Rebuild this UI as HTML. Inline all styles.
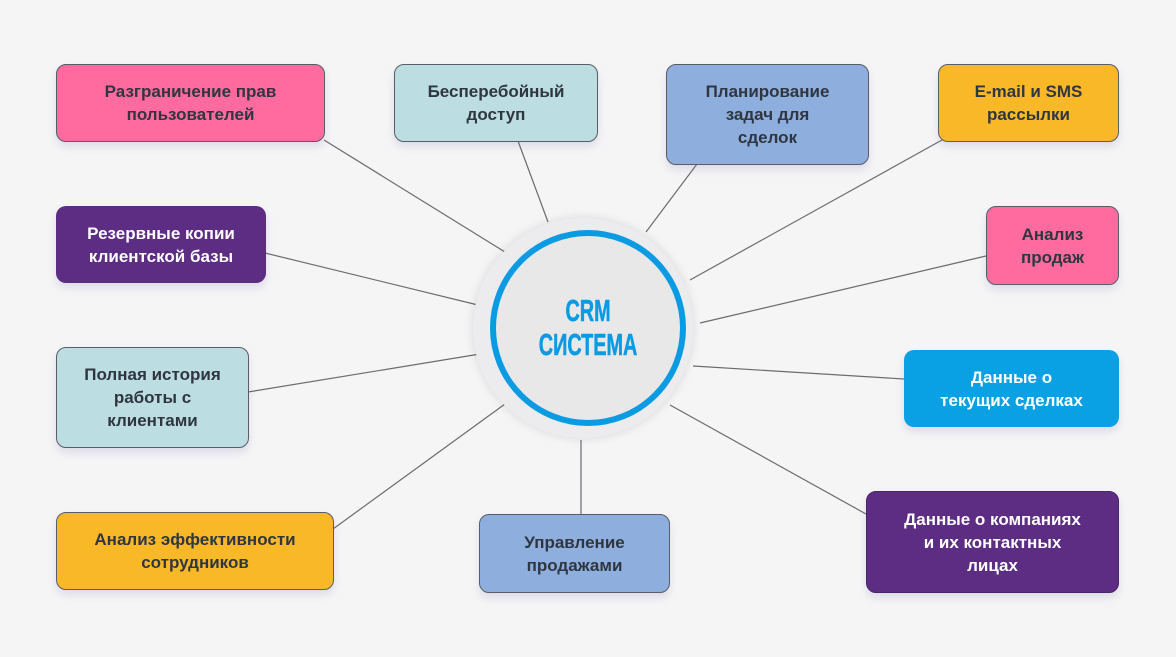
<!DOCTYPE html>
<html><head><meta charset="utf-8"><style>
html,body{margin:0;padding:0}
body{width:1176px;height:657px;background:#f5f5f6;position:relative;overflow:hidden;font-family:"Liberation Sans","DejaVu Sans",sans-serif}
.b{position:absolute;box-sizing:border-box;border-radius:10px;display:flex;align-items:center;justify-content:center;text-align:center;font-weight:bold;font-size:17px;line-height:23px;color:#2f3640;box-shadow:0 5px 8px rgba(120,110,170,0.18)}
.k{border:1px solid #5a5d66}
.w{color:#fff}
svg{position:absolute;left:0;top:0}
.c{position:absolute;left:473px;top:218px;width:220px;height:220px;border-radius:50%;background:#ececee;box-shadow:0 0 10px rgba(0,0,0,0.12)}
.r{position:absolute;left:490px;top:230px;width:196px;height:196px;box-sizing:border-box;border-radius:50%;border:6px solid #0a9be3;background:#e8e8e9;display:flex;align-items:center;justify-content:center;text-align:center;color:#0a9be3;font-weight:bold;font-size:31px;line-height:34px}
.r span{display:inline-block;transform:scaleX(0.64);-webkit-text-stroke:0.6px #0a9be3}
</style></head><body>
<svg width="1176" height="657"><g stroke="#6b6b70" stroke-width="1.2">
<line x1="324" y1="140" x2="505" y2="252"/>
<line x1="518" y1="141" x2="548" y2="222"/>
<line x1="697" y1="164" x2="646" y2="232"/>
<line x1="942" y1="140" x2="690" y2="280"/>
<line x1="265" y1="253" x2="478" y2="305"/>
<line x1="986" y1="256" x2="700" y2="323"/>
<line x1="248" y1="392" x2="480" y2="354"/>
<line x1="904" y1="379" x2="693" y2="366"/>
<line x1="333" y1="529" x2="505" y2="404"/>
<line x1="581" y1="515" x2="581" y2="440"/>
<line x1="866" y1="514" x2="670" y2="405"/>
</g></svg>
<div class="c"></div>
<div class="r"><span>CRM<br>СИСТЕМА</span></div>
<div class="b k" style="left:56px;top:64px;width:269px;height:78px;background:#ff6b9e">Разграничение прав<br>пользователей</div>
<div class="b k" style="left:394px;top:64px;width:204px;height:78px;background:#bcdde1">Бесперебойный<br>доступ</div>
<div class="b k" style="left:666px;top:64px;width:203px;height:101px;background:#8eaede">Планирование<br>задач для<br>сделок</div>
<div class="b k" style="left:938px;top:64px;width:181px;height:78px;background:#f8b828">E-mail и SMS<br>рассылки</div>
<div class="b w" style="left:56px;top:206px;width:210px;height:77px;background:#5d2d83">Резервные копии<br>клиентской базы</div>
<div class="b k" style="left:986px;top:206px;width:133px;height:79px;background:#ff6b9e">Анализ<br>продаж</div>
<div class="b k" style="left:56px;top:347px;width:193px;height:101px;background:#bcdde1">Полная история<br>работы с<br>клиентами</div>
<div class="b w" style="left:904px;top:350px;width:215px;height:77px;background:#0aa0e4">Данные о<br>текущих сделках</div>
<div class="b k" style="left:56px;top:512px;width:278px;height:78px;background:#f8b828">Анализ эффективности<br>сотрудников</div>
<div class="b k" style="left:479px;top:514px;width:191px;height:79px;background:#8eaede">Управление<br>продажами</div>
<div class="b k w" style="left:866px;top:491px;width:253px;height:102px;background:#5d2d83;border-color:#4a2468">Данные о компаниях<br>и их контактных<br>лицах</div>
</body></html>
